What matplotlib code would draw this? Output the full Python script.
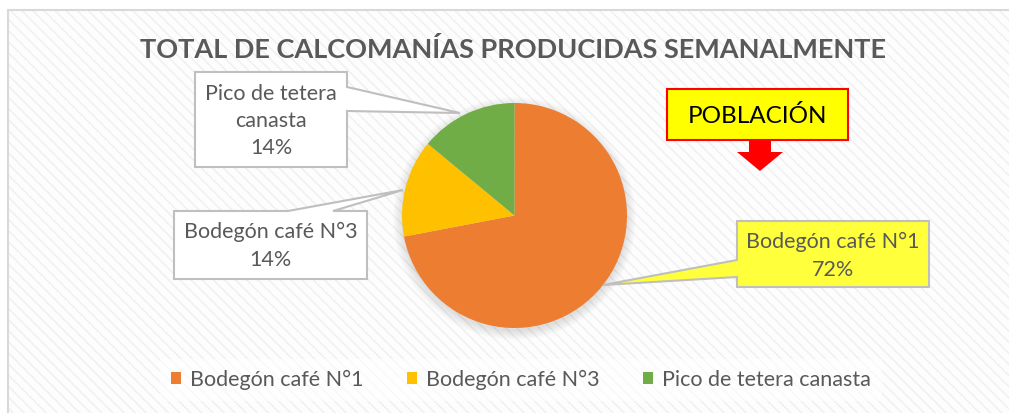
import matplotlib
matplotlib.use("Agg")
import matplotlib.pyplot as plt
from matplotlib.patches import Rectangle, Polygon, Circle
import matplotlib as mpl

categories = ["Bodegón café N°1", "Bodegón café N°3", "Pico de tetera canasta"]
values = [72, 14, 14]
colors = ["#ED7D31", "#FFC000", "#70AD47"]
title = "TOTAL DE CALCOMANÍAS PRODUCIDAS SEMANALMENTE"
label_texts = ["Bodegón café N°1\n72%", "Bodegón café N°3\n14%", "Pico de tetera\ncanasta\n14%"]
note_text = "POBLACIÓN"

plt.rcParams['font.family'] = ['Lato', 'DejaVu Sans']
mpl.rcParams['hatch.linewidth'] = 1.0

W, H = 1009, 413
fig = plt.figure(figsize=(W / 100, H / 100), dpi=100)
ax = fig.add_axes([0, 0, 1, 1])
ax.set_xlim(0, W)
ax.set_ylim(0, H)
ax.set_aspect('equal')
ax.axis('off')

def Y(y):
    return H - y

# background with diagonal hatch and border
bg = Rectangle((8, -5), 1010, Y(10) + 5, facecolor='#FDFDFD', edgecolor='#EFEFEF',
               hatch='\\\\\\', linewidth=0, zorder=0)
ax.add_patch(bg)
border = Rectangle((8, -5), 1010, Y(10) + 5, facecolor='none', edgecolor='#D9D9D9',
                   linewidth=1.5, zorder=0.5)
ax.add_patch(border)

# title
ax.text(513, Y(50), title, ha='center', va='center', fontsize=19.5, fontweight='bold',
        color='#595959', zorder=5)

# pie shadow
cx, cy, r = 514.5, Y(215.5), 112.5
for i in range(10):
    ax.add_patch(Circle((cx, cy - 3), r + 9 - i, facecolor='black', alpha=0.012,
                        edgecolor='none', zorder=1))

wedges, _ = ax.pie(values, colors=colors, startangle=90, counterclock=False,
                   center=(cx, cy), radius=r, frame=True,
                   wedgeprops=dict(linewidth=0, zorder=2))
ax.set_xlim(0, W)
ax.set_ylim(0, H)
ax.axis('off')

# callouts (label boxes with pointers)
def poly(pts, fc, ec):
    p = Polygon([(x, Y(y)) for x, y in pts], closed=True, facecolor=fc, edgecolor=ec,
                linewidth=1.5, zorder=4, joinstyle='miter')
    ax.add_patch(p)

LFS = 15.5
LS = 1.45
# Pico de tetera canasta
poly([(195, 72), (347, 72), (347, 87), (460, 113), (347, 111), (347, 167), (195, 167)],
     'white', '#BFBFBF')
ax.text(271, Y(121), label_texts[2], ha='center', va='center', fontsize=LFS,
        color='#595959', linespacing=LS, zorder=5)

# Bodegón café N°3
poly([(174, 211), (288, 211), (403, 190), (333, 211), (367, 211), (367, 279), (174, 279)],
     'white', '#BFBFBF')
ax.text(270.5, Y(246), label_texts[1], ha='center', va='center', fontsize=LFS,
        color='#595959', linespacing=LS, zorder=5)

# Bodegón café N°1
poly([(737, 221), (929, 221), (929, 287), (737, 287), (737, 277), (603, 285), (737, 260)],
     '#FFFF3C', '#BFBFBF')
ax.text(833, Y(256), label_texts[0], ha='center', va='center', fontsize=LFS,
        color='#595959', linespacing=LS, zorder=5)

# POBLACIÓN box and arrow
ax.add_patch(Rectangle((667, Y(140)), 181, 51, facecolor='#FFFF00', edgecolor='#FF0000',
                       linewidth=1.5, zorder=4))
ax.text(757.5, Y(116), note_text, ha='center', va='center', fontsize=17.5,
        color='black', zorder=5)
ax.add_patch(Polygon([(749, Y(140)), (771, Y(140)), (771, Y(152)), (783, Y(152)),
                      (760, Y(171)), (737, Y(152)), (749, Y(152))], closed=True,
                     facecolor='#FF0000', edgecolor='none', zorder=4))

# legend
leg = ax.legend(wedges, categories, loc='center', bbox_to_anchor=(521 / W, 1 - 380 / H),
                ncol=3, fontsize=LFS, frameon=True, fancybox=False, handlelength=0.47,
                handleheight=0.47, handletextpad=0.42, columnspacing=2.0,
                borderpad=0.5)
frame = leg.get_frame()
frame.set_facecolor('white')
frame.set_alpha(0.6)
frame.set_edgecolor('none')
for t in leg.get_texts():
    t.set_color('#595959')

fig.savefig('out.png', dpi=100)
